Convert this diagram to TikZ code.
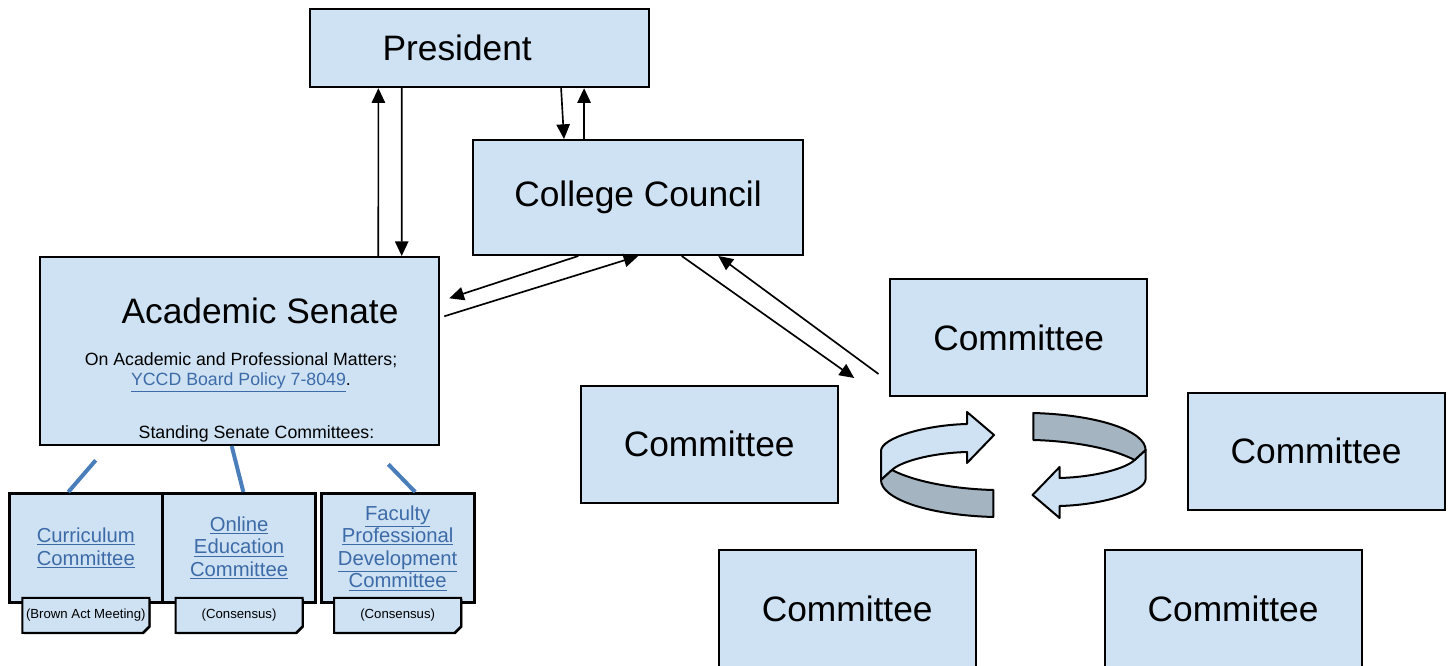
\documentclass[tikz,border=0pt]{standalone}
\usepackage{fontspec}
\setmainfont{Liberation Sans}
\usetikzlibrary{arrows.meta, positioning, calc, shapes.misc, shadows}

\definecolor{boxblue}{HTML}{CFE2F3}
\definecolor{ribbongray}{HTML}{A4B4C1}
\definecolor{linkblue}{HTML}{3D6BA8}
\definecolor{branchblue}{HTML}{4A7EBB}
\newcommand{\lnk}[1]{\textcolor{linkblue}{\underline{#1}}}

\tikzset{
    ribbon/.pic={
        \draw[line width=1.5pt, line join=round, fill=boxblue]
            (-132.3,-14) .. controls (-132.3,-27) and (-88.3,-40) .. (-46.3,-41)
            -- (-46.3,-53) -- (-19.3,-30) -- (-46.3,-2) -- (-46.3,-13)
            .. controls (-83.3,-12) and (-113.3,-3) .. (-121.3,5)
            -- (-132.3,15) -- cycle;
        \draw[line width=1.5pt, line join=round, fill=ribbongray]
            (-121.3,5) .. controls (-98.3,17) and (-58.3,24) .. (-20,25)
            -- (-20,52) .. controls (-88.3,50) and (-132.3,33) .. (-132.3,15)
            -- cycle;
    }
}

\begin{document}
\begin{tikzpicture}[
    x=0.75pt, y=-0.75pt,
    box/.style={rectangle, draw, line width=1.5pt, fill=boxblue, inner sep=0pt, font=\fontsize{26.5}{30}\selectfont},
    unit/.style={box, minimum width=192.75pt, minimum height=87.75pt},
    sub/.style={rectangle, draw, line width=2pt, fill=boxblue, inner sep=0pt, minimum width=114.75pt, minimum height=82pt, align=center, font=\fontsize{15.2}{16.9}\selectfont},
    tab/.style={chamfered rectangle, chamfered rectangle corners=south east, chamfered rectangle xsep=2.5pt, chamfered rectangle ysep=2.5pt, draw, line width=1.5pt, fill=boxblue, inner sep=0pt, minimum width=95.25pt, minimum height=26.25pt, font=\fontsize{9.9}{11}\selectfont, drop shadow={shadow xshift=0.9pt, shadow yshift=-0.9pt, opacity=1, fill=black}},
    note/.style={align=center, inner sep=0pt, font=\fontsize{13.3}{15}\selectfont},
    arrow/.style={-{Triangle[length=11pt, width=10pt]}, line width=1.25pt},
    branch/.style={line width=3pt, draw=branchblue}
]
    \useasboundingbox (0,0) rectangle (1450,666);

    % Top: President and College Council
    \node[box, minimum width=254.25pt, minimum height=58.5pt] (president) at (479.6,48.2) {President\hspace*{33.6pt}};
    \node[box, minimum width=247.5pt, minimum height=86.25pt] (council) at (638,197.5) {College Council};

    % Academic Senate
    \node[box, minimum width=299.25pt, minimum height=141pt] (senate) at (239.5,351) {};
    \node[box, draw=none, fill=none] (senatetitle) at (260,311) {Academic Senate};
    \node[note] (matters) at (241,372) {On Academic and Professional Matters;\\\lnk{YCCD Board Policy 7-8049}.};
    \node[note] (standing) at (256.5,434) {Standing Senate Committees:};

    % Standing committees
    \node[sub] (curriculum) at (85.8,548) {\lnk{Curriculum}\\\lnk{Committee}};
    \node[sub, right=-1.8pt of curriculum] (online) {\lnk{Online}\\\lnk{Education}\\\lnk{Committee}};
    \node[sub, right=2.2pt of online] (faculty) {\lnk{Faculty}\\\lnk{Professional}\\\lnk{Development}\\\lnk{Committee}};
    \node[tab, below=-5.4pt of curriculum] (brown) {(Brown Act Meeting)};
    \node[tab, below=-5.4pt of online] (consensusA) {(Consensus)};
    \node[tab, below=-5.4pt of faculty] (consensusB) {(Consensus)};

    % Committees around the cycle
    \node[unit] (comA) at (1018.7,337.5) {Committee};
    \node[unit] (comB) at (709.2,444.2) {Committee};
    \node[unit] (comC) at (1316,451.3) {Committee};
    \node[unit] (comD) at (847.2,608.5) {Committee};
    \node[unit] (comE) at (1233,608.5) {Committee};

    \pic at (1013.3,465) {ribbon};
    \pic[rotate=180] at (1013.3,465) {ribbon};

    % Arrows
    \draw[arrow] ($(senate.north)+(138.8,0)$) -- ($(president.south)+(-101.2,0)$);
    \draw[arrow] ($(president.south)+(-77.8,0)$) -- ($(senate.north)+(162.2,0)$);
    \draw[arrow] ($(president.south)+(81.5,0)$) -- ($(council.north)+(-74,0)$);
    \draw[arrow] ($(council.north)+(-54,0)$) -- ($(president.south)+(104.5,0)$);
    \draw[arrow] ($(council.south)+(-59.7,0)$) -- ($(senate.north east)+(9.3,42.3)$);
    \draw[arrow] ($(senate.north east)+(4.3,60.3)$) -- ($(council.south)+(0.3,0)$);
    \draw[arrow] ($(council.south)+(43.7,0)$) -- ($(comA.south west)+(-35,-19)$);
    \draw[arrow] ($(comA.south west)+(-10.7,-23)$) -- ($(council.south)+(80.3,0)$);

    % Branches to standing committees
    \draw[branch] ($(senate.south west)+(56.7,14.3)$) -- ($(curriculum.north)+(-17.5,0)$);
    \draw[branch] ($(senate.south)+(-7.8,0)$) -- ($(online.north)+(4.3,0)$);
    \draw[branch] ($(senate.south)+(148.8,18.3)$) -- ($(faculty.north)+(17.5,0)$);

\end{tikzpicture}
\end{document}
